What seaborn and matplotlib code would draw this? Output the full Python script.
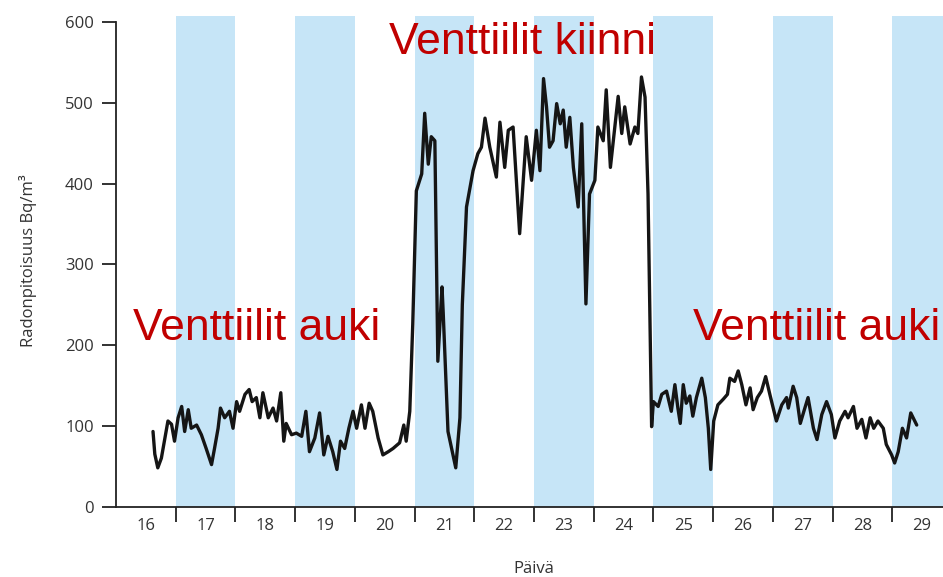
import seaborn as sns
import matplotlib.pyplot as plt
import pandas as pd
import numpy as np

# Radon concentration (day, Bq/m3)
days = [16.62, 16.65, 16.70, 16.76, 16.82, 16.87, 16.93, 16.98, 17.04, 17.10,
        17.15, 17.21, 17.26, 17.35, 17.43, 17.51, 17.60, 17.65, 17.71, 17.75,
        17.82, 17.90, 17.96, 18.02, 18.07, 18.16, 18.23, 18.28, 18.35, 18.41,
        18.46, 18.55, 18.63, 18.69, 18.76, 18.81, 18.85, 18.94, 19.02, 19.11,
        19.18, 19.24, 19.33, 19.41, 19.48, 19.55, 19.63, 19.70, 19.76, 19.83,
        19.90, 19.97, 20.03, 20.11, 20.17, 20.24, 20.30, 20.39, 20.47, 20.56,
        20.64, 20.75, 20.82, 20.86, 20.92, 20.97, 21.03, 21.12, 21.17, 21.23,
        21.28, 21.34, 21.39, 21.46, 21.48, 21.56, 21.69, 21.76, 21.80, 21.87,
        21.98, 22.06, 22.12, 22.18, 22.26, 22.37, 22.43, 22.51, 22.57, 22.65,
        22.76, 22.87, 22.96, 23.04, 23.10, 23.16, 23.21, 23.26, 23.32, 23.38,
        23.44, 23.49, 23.54, 23.60, 23.66, 23.74, 23.80, 23.87, 23.93, 24.02,
        24.07, 24.16, 24.21, 24.28, 24.41, 24.47, 24.52, 24.61, 24.69, 24.74,
        24.80, 24.86, 24.91, 24.97, 25.00, 25.08, 25.14, 25.22, 25.30, 25.36,
        25.41, 25.45, 25.50, 25.55, 25.61, 25.66, 25.72, 25.81, 25.87, 25.92,
        25.96, 26.01, 26.08, 26.17, 26.24, 26.28, 26.36, 26.42, 26.48, 26.55,
        26.62, 26.67, 26.74, 26.81, 26.88, 26.95, 27.06, 27.15, 27.23, 27.26,
        27.34, 27.40, 27.46, 27.52, 27.59, 27.68, 27.74, 27.82, 27.90, 27.98,
        28.04, 28.12, 28.21, 28.26, 28.35, 28.41, 28.49, 28.56, 28.63, 28.69,
        28.76, 28.85, 28.90, 28.99, 29.04, 29.10, 29.17, 29.24, 29.31, 29.41]
radon = [93, 65, 48, 60, 85, 106, 102, 81, 110, 124,
         93, 120, 97, 101, 89, 72, 52, 72, 97, 122,
         110, 118, 97, 130, 118, 139, 145, 130, 135, 110,
         141, 110, 122, 106, 141, 81, 103, 89, 91, 87,
         118, 68, 85, 116, 64, 87, 68, 46, 81, 72,
         97, 118, 97, 126, 97, 128, 118, 85, 64, 68,
         72, 79, 101, 81, 118, 226, 391, 412, 487, 424,
         458, 453, 180, 272, 240, 93, 48, 110, 250, 371,
         416, 437, 445, 481, 445, 408, 476, 420, 466, 470,
         338, 458, 404, 466, 416, 530, 495, 445, 453, 499,
         474, 491, 445, 482, 420, 371, 474, 251, 387, 404,
         470, 453, 516, 420, 508, 462, 495, 449, 470, 462,
         532, 507, 387, 99, 130, 124, 139, 143, 118, 151,
         122, 103, 151, 128, 137, 112, 135, 159, 135, 97,
         46, 106, 126, 133, 139, 159, 155, 168, 151, 126,
         147, 120, 135, 143, 161, 139, 106, 126, 135, 122,
         149, 135, 103, 118, 135, 97, 83, 114, 130, 114,
         85, 106, 118, 110, 124, 97, 108, 85, 110, 97,
         106, 97, 77, 64, 54, 68, 97, 85, 116, 101]

day_labels = [str(d) for d in range(16, 30)]
shaded_days = [17, 19, 21, 23, 25, 27, 29]
y_ticks = [0, 100, 200, 300, 400, 500, 600]

df = pd.DataFrame({'Päivä': days, 'Radon': radon})

sns.set_style('white')
plt.rcParams['font.family'] = ['Open Sans', 'DejaVu Sans']

fig = plt.figure(figsize=(9.43, 5.77), dpi=100)
ax = fig.add_axes([0.123, 0.122, 0.8865, 0.851])

# alternating day bands
for d in shaded_days:
    ax.axvspan(d, d + 1, color='#c6e5f7', lw=0, zorder=0)

sns.lineplot(data=df, x='Päivä', y='Radon', color='#151515', lw=2.4, ax=ax, zorder=3)

ax.set_xlim(16, 30)
ax.set_ylim(0, 608)
ax.spines['top'].set_visible(False)
ax.spines['right'].set_visible(False)
ax.spines['left'].set_bounds(0, 600)
for s in ['left', 'bottom']:
    ax.spines[s].set_linewidth(1.3)
    ax.spines[s].set_color('#222222')

ax.set_yticks(y_ticks)
ax.set_yticklabels([str(v) for v in y_ticks], fontsize=12, color='#333333')
ax.tick_params(axis='y', direction='out', length=10, width=1.3, color='#222222', left=True, pad=6)

ax.set_xticks(range(17, 30))
ax.set_xticklabels([''] * 13)
ax.set_xticks([d + 0.5 for d in range(16, 30)], minor=True)
ax.set_xticklabels(day_labels, minor=True, fontsize=12, color='#333333')
ax.tick_params(axis='x', which='major', direction='out', length=11, width=1.3, color='#222222', bottom=True)
ax.tick_params(axis='x', which='minor', length=0, pad=8)

ax.set_xlabel('Päivä', fontsize=12, color='#333333', labelpad=20)
ax.set_ylabel('Radonpitoisuus Bq/m³', fontsize=12, color='#333333', labelpad=20)

red = '#c00000'
ax.text(22.81, 575, 'Venttiilit kiinni', color=red, fontsize=32, ha='center', va='center',
        family=['Liberation Sans', 'DejaVu Sans'])
ax.text(18.36, 220, 'Venttiilit auki', color=red, fontsize=32, ha='center', va='center',
        family=['Liberation Sans', 'DejaVu Sans'])
ax.text(27.74, 220, 'Venttiilit auki', color=red, fontsize=32, ha='center', va='center',
        family=['Liberation Sans', 'DejaVu Sans'])

fig.savefig('out.png', dpi=100)
